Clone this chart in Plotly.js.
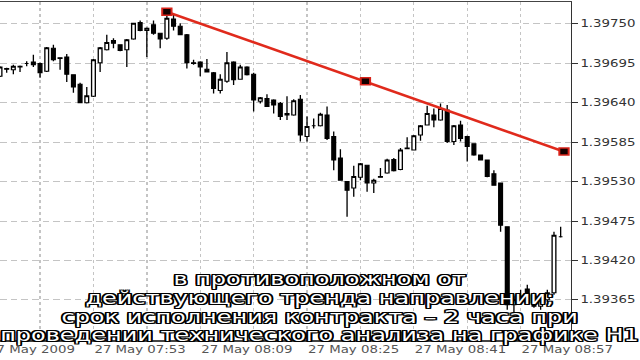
<!DOCTYPE html>
<html><head><meta charset="utf-8">
<script src="https://cdn.plot.ly/plotly-3.0.1.min.js"></script>
<style>
html,body{margin:0;padding:0;background:#fff;overflow:hidden;width:640px;height:360px;}
#chart{width:480px;height:360px;transform:scaleX(1.333333);transform-origin:0 0;}
</style></head><body><div id="chart"></div>
<script>
// M1 bars, 27 May 2009, first bar 07:39
const firstBarMinute = 7 * 60 + 39;
const openP = [1.39677,1.39688,1.39686,1.39691,1.39695,1.39697,1.39695,1.39684,1.39716,1.39703,
1.39704,1.39679,1.39666,1.39640,1.39649,1.39696,1.39714,1.39727,1.39721,1.39714,
1.39729,1.39752,1.39741,1.39749,1.39737,1.39730,1.39757,1.39747,1.39735,1.39696,
1.39697,1.39687,1.39682,1.39657,1.39670,1.39697,1.39673,1.39690,1.39680,1.39642,
1.39646,1.39644,1.39639,1.39623,1.39623,1.39645,1.39593,1.39608,1.39608,1.39623,
1.39593,1.39563,1.39530,1.39521,1.39536,1.39553,1.39528,1.39537,1.39542,1.39561,
1.39547,1.39577,1.39574,1.39595,1.39609,1.39623,1.39616,1.39630,1.39586,1.39609,
1.39593,1.39583,1.39567,1.39560,1.39541,1.39528,1.39467,1.39358,1.39365,1.39380,
1.39370,1.39356,1.39365,1.39375,1.39453];
const highP = [1.39691,1.39689,1.39693,1.39692,1.39698,1.39707,1.39696,1.39718,1.39721,1.39703,
1.39708,1.39680,1.39668,1.39662,1.39701,1.39718,1.39735,1.39730,1.39721,1.39729,
1.39751,1.39755,1.39745,1.39755,1.39737,1.39767,1.39763,1.39751,1.39736,1.39700,
1.39698,1.39701,1.39683,1.39680,1.39711,1.39698,1.39693,1.39691,1.39682,1.39648,
1.39652,1.39645,1.39641,1.39649,1.39645,1.39651,1.39621,1.39618,1.39626,1.39635,
1.39600,1.39575,1.39531,1.39552,1.39556,1.39553,1.39534,1.39549,1.39562,1.39563,
1.39577,1.39592,1.39595,1.39609,1.39636,1.39632,1.39639,1.39637,1.39609,1.39615,
1.39594,1.39583,1.39567,1.39560,1.39546,1.39528,1.39467,1.39370,1.39379,1.39386,
1.39375,1.39369,1.39379,1.39460,1.39467];
const lowP = [1.39676,1.39682,1.39680,1.39683,1.39691,1.39690,1.39675,1.39683,1.39698,1.39686,
1.39669,1.39654,1.39640,1.39639,1.39648,1.39683,1.39713,1.39716,1.39712,1.39690,
1.39728,1.39740,1.39704,1.39735,1.39716,1.39728,1.39741,1.39735,1.39688,1.39693,
1.39677,1.39683,1.39653,1.39653,1.39668,1.39665,1.39672,1.39678,1.39628,1.39639,
1.39634,1.39625,1.39616,1.39616,1.39622,1.39586,1.39586,1.39604,1.39607,1.39588,
1.39546,1.39532,1.39481,1.39509,1.39532,1.39516,1.39514,1.39536,1.39541,1.39544,
1.39546,1.39576,1.39574,1.39587,1.39609,1.39606,1.39615,1.39584,1.39581,1.39586,
1.39558,1.39566,1.39560,1.39536,1.39525,1.39460,1.39351,1.39348,1.39358,1.39368,
1.39354,1.39351,1.39362,1.39372,1.39452];
const closeP = [1.39690,1.39687,1.39691,1.39690,1.39695,1.39693,1.39682,1.39717,1.39700,1.39702,
1.39680,1.39662,1.39640,1.39650,1.39700,1.39717,1.39724,1.39723,1.39713,1.39728,
1.39751,1.39741,1.39744,1.39737,1.39729,1.39758,1.39747,1.39735,1.39696,1.39695,
1.39690,1.39683,1.39660,1.39673,1.39696,1.39672,1.39690,1.39679,1.39644,1.39647,
1.39635,1.39637,1.39621,1.39625,1.39643,1.39595,1.39607,1.39608,1.39624,1.39590,
1.39560,1.39532,1.39518,1.39537,1.39555,1.39528,1.39532,1.39536,1.39560,1.39545,
1.39574,1.39576,1.39594,1.39608,1.39625,1.39616,1.39632,1.39586,1.39608,1.39590,
1.39579,1.39567,1.39560,1.39537,1.39525,1.39469,1.39358,1.39365,1.39370,1.39372,
1.39356,1.39365,1.39375,1.39455,1.39453];

const trendTimes = ['2009-05-27 08:04:00','2009-05-27 08:33:45','2009-05-27 09:03:30'];
const trendPrices = [1.39767, 1.39670, 1.39572];

const yTickVals = [1.39365,1.39420,1.39475,1.39530,1.39585,1.39640,1.39695,1.39750];
const yTickText = ['1.39365','1.39420','1.39475','1.39530','1.39585','1.39640','1.39695','1.39750'];

const xTickVals = ['2009-05-27 07:45','2009-05-27 07:53','2009-05-27 08:01','2009-05-27 08:09',
'2009-05-27 08:17','2009-05-27 08:25','2009-05-27 08:33','2009-05-27 08:41','2009-05-27 08:49','2009-05-27 08:57'];
const xTickText = ['','27 May 07:53','','27 May 08:09','','27 May 08:25','','27 May 08:41','','27 May 08:57'];
const firstDateLabel = '27 May 2009';

const subtitleLines = [
  'в противоположном от',
  'действующего тренда направлении;',
  'срок исполнения контракта – 2 часа при',
  'проведении технического анализа на графике H1'
];

function pad(n){return (n<10?'0':'')+n;}
const times = openP.map((_, i) => {
  const m = firstBarMinute + i;
  return '2009-05-27 ' + pad(Math.floor(m/60)) + ':' + pad(m % 60);
});

const candles = {
  type: 'candlestick', x: times, open: openP, high: highP, low: lowP, close: closeP,
  increasing: {line: {color: '#000', width: 1}, fillcolor: '#fff'},
  decreasing: {line: {color: '#000', width: 1}, fillcolor: '#000'},
  whiskerwidth: 0, hoverinfo: 'skip', showlegend: false
};
const trend = {
  type: 'scatter', mode: 'lines+markers', x: trendTimes, y: trendPrices,
  line: {color: '#e02a1c', width: 2.5},
  marker: {symbol: 'square', size: 7, color: '#150000', line: {color: '#d8231a', width: 1.5}},
  hoverinfo: 'skip', showlegend: false, cliponaxis: false
};

const outline = '-1.5px -1.5px 0 #000, 1.5px -1.5px 0 #000, -1.5px 1.5px 0 #000, 1.5px 1.5px 0 #000, 0 -1.5px 0 #000, 0 1.5px 0 #000, -1.5px 0 0 #000, 1.5px 0 0 #000';
const subY = [0.183, 0.126, 0.07, 0.017];
const annotations = subtitleLines.map((t, i) => ({
  text: t, xref: 'paper', yref: 'paper', x: 0.5607, y: subY[i],
  xanchor: 'center', yanchor: 'middle', showarrow: false,
  font: {family: 'DejaVu Sans', size: 18, color: '#fff', shadow: outline}
}));
annotations.push({
  text: firstDateLabel, xref: 'paper', yref: 'paper', x: -0.025, y: -0.027,
  xanchor: 'left', yanchor: 'middle', showarrow: false,
  font: {family: 'DejaVu Sans', size: 10, color: '#555'}
});

const layout = {
  width: 480, height: 360,
  margin: {l: 0, r: 52, t: 2, b: 20},
  paper_bgcolor: '#fff', plot_bgcolor: '#fff',
  font: {family: 'DejaVu Sans', color: '#333'},
  showlegend: false,
  boxgap: 0.2,
  xaxis: {
    type: 'date', range: ['2009-05-27 07:39:00', '2009-05-27 09:04:30'],
    rangeslider: {visible: false},
    tickmode: 'array', tickvals: xTickVals, ticktext: xTickText,
    ticks: '', ticklabelposition: 'outside right',
    tickfont: {family: 'DejaVu Sans', size: 10, color: '#555'},
    showgrid: true, gridcolor: '#c4c4c4', gridwidth: 1, griddash: '3px,3px',
    showline: true, mirror: true, linecolor: '#444', linewidth: 1.5, zeroline: false
  },
  yaxis: {
    side: 'right', range: [1.393089, 1.397807],
    tickmode: 'array', tickvals: yTickVals, ticktext: yTickText,
    ticks: 'outside', ticklen: 4, tickwidth: 1, tickcolor: '#333',
    tickfont: {family: 'DejaVu Sans', size: 10, color: '#333'},
    showgrid: true, gridcolor: '#c4c4c4', gridwidth: 1, griddash: '5px,3px',
    showline: true, linecolor: '#333', linewidth: 1.3, zeroline: false
  },
  annotations: annotations
};

Plotly.newPlot('chart', [candles, trend], layout, {displayModeBar: false, staticPlot: true});
</script></body></html>
